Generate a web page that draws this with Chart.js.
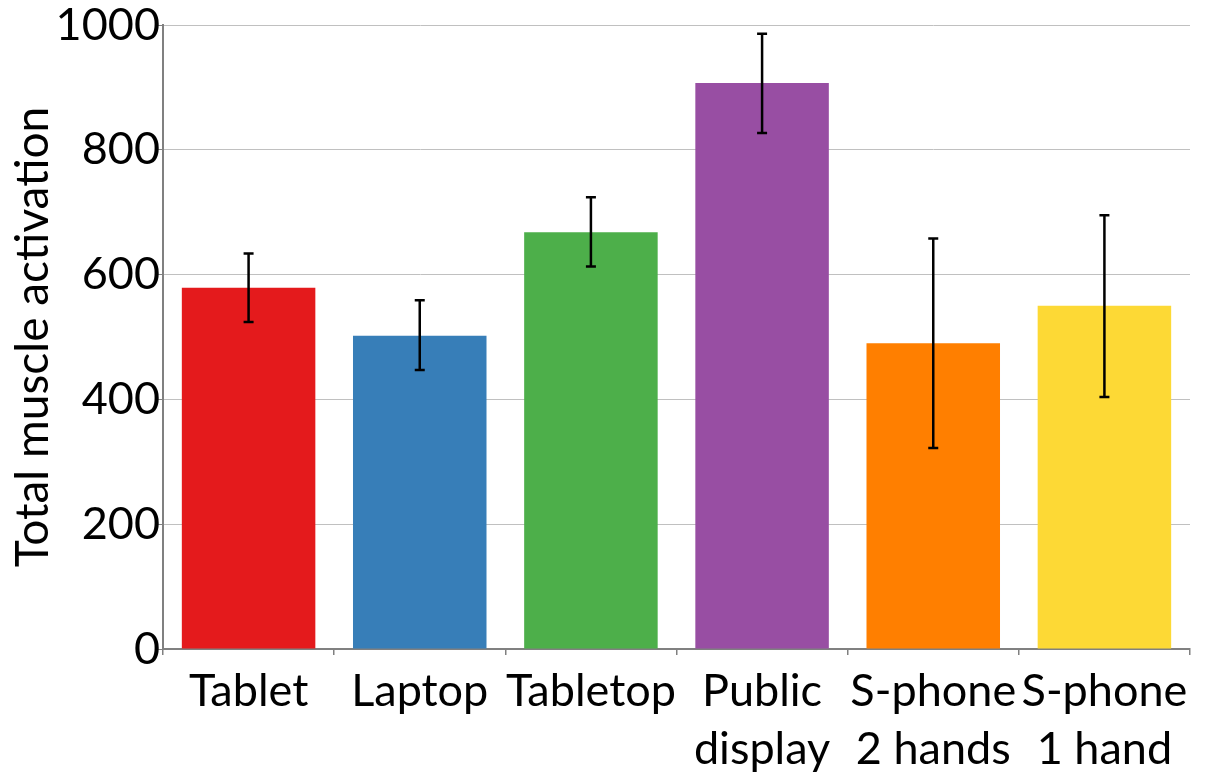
<!DOCTYPE html>
<html>
<head>
<meta charset="utf-8">
<script src="https://cdn.jsdelivr.net/npm/chart.js@4"></script>
<style>
html,body{margin:0;padding:0;background:#fff;}
#wrap{width:1212px;height:778px;position:relative;}
</style>
</head>
<body>
<div id="wrap"><canvas id="c" width="1212" height="778"></canvas></div>
<script>
const categories = [["Tablet"], ["Laptop"], ["Tabletop"], ["Public", "display"], ["S-phone", "2 hands"], ["S-phone", "1 hand"]];
const values = [579, 502, 668, 907, 490, 550];
const errLow = [524, 447, 613, 827, 322, 404];
const errHigh = [634, 559, 724, 986, 658, 695];
const barColors = ["#e41a1c", "#377eb8", "#4daf4a", "#984ea3", "#ff7f00", "#fdd935"];
const yTicks = [0, 200, 400, 600, 800, 1000];

const errorBars = {
  id: 'errorBars',
  afterDatasetsDraw(chart) {
    const ctx = chart.ctx;
    const meta = chart.getDatasetMeta(0);
    const y = chart.scales.y;
    ctx.save();
    ctx.strokeStyle = '#000';
    ctx.lineWidth = 2.5;
    meta.data.forEach((bar, i) => {
      const x = bar.x;
      const yl = y.getPixelForValue(errLow[i]);
      const yh = y.getPixelForValue(errHigh[i]);
      ctx.beginPath();
      ctx.moveTo(x, yl); ctx.lineTo(x, yh);
      ctx.moveTo(x - 5, yl); ctx.lineTo(x + 5, yl);
      ctx.moveTo(x - 5, yh); ctx.lineTo(x + 5, yh);
      ctx.stroke();
    });
    ctx.restore();
  }
};

new Chart(document.getElementById('c'), {
  type: 'bar',
  data: {
    labels: categories,
    datasets: [{
      data: values,
      backgroundColor: barColors,
      borderWidth: 0,
      categoryPercentage: 1,
      barPercentage: 0.78
    }]
  },
  options: {
    responsive: false,
    animation: false,
    layout: { padding: { top: 25, right: 22, left: 0, bottom: 0 } },
    plugins: { legend: { display: false }, tooltip: { enabled: false } },
    scales: {
      x: {
        grid: { offset: true, drawOnChartArea: false, drawTicks: true, tickLength: 6, color: '#808080', lineWidth: 1.5 },
        border: { color: '#808080', width: 2 },
        ticks: { color: '#000', font: { family: 'Lato', size: 45, lineHeight: 1.3 }, padding: 7, maxRotation: 0, autoSkip: false },
        afterFit(s) { s.height = 129; }
      },
      y: {
        min: 0, max: 1000,
        afterBuildTicks(s) { s.ticks = yTicks.map(v => ({ value: v })); },
        grid: { color: '#c0c0c0', lineWidth: 1, drawTicks: true, tickLength: 6, tickColor: '#808080' },
        border: { color: '#808080', width: 2 },
        ticks: { color: '#000', font: { family: 'Lato', size: 45, lineHeight: 1 }, padding: -3, callback: v => String(v) },
        title: { display: true, text: 'Total muscle activation', color: '#000', font: { family: 'Lato', size: 46, lineHeight: 1.1 }, padding: { top: 8, bottom: 0 } },
        afterFit(s) { s.width = 163; }
      }
    }
  },
  plugins: [errorBars]
});
</script>
</body>
</html>
